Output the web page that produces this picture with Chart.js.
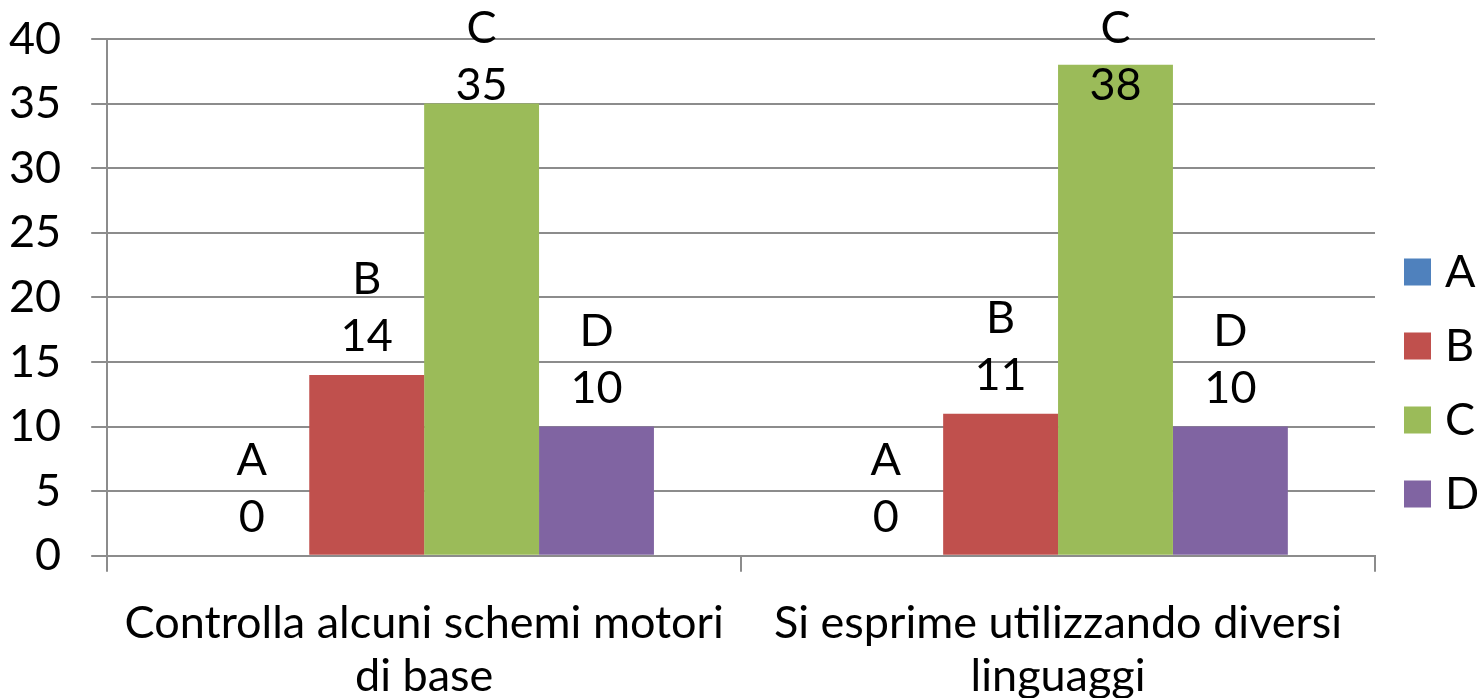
<!DOCTYPE html>
<html>
<head>
<meta charset="utf-8">
<script src="https://cdn.jsdelivr.net/npm/chart.js@4/dist/chart.umd.min.js"></script>
<style>
  html, body { margin: 0; padding: 0; background: #fff; }
  #wrap { width: 1478px; height: 698px; position: relative; }
</style>
</head>
<body>
<div id="wrap"><canvas id="c"></canvas></div>
<script>
// grouped bars, two categories, four answer series A-D

const categories = [
  ['Controlla alcuni schemi motori', 'di base'],
  ['Si esprime utilizzando diversi', 'linguaggi']
];
const seriesNames = ['A', 'B', 'C', 'D'];
const seriesA = [0, 0];
const seriesB = [14, 11];
const seriesC = [35, 38];
const seriesD = [10, 10];
const yTicks = [0, 5, 10, 15, 20, 25, 30, 35, 40];

const colors = ['#4F81BD', '#C0504D', '#9BBB59', '#8064A2'];
const FONT = 'Lato, "Open Sans", sans-serif';
const FS = 45;
const GRID = '#8c8c8c';

// name over value, above each bar (pushed down when it would leave the top)
const barLabels = {
  id: 'barLabels',
  afterDatasetsDraw(chart) {
    const ctx = chart.ctx;
    ctx.save();
    ctx.font = FS + 'px ' + FONT;
    ctx.fillStyle = '#000';
    ctx.textAlign = 'center';
    ctx.textBaseline = 'middle';
    chart.data.datasets.forEach((ds, i) => {
      chart.getDatasetMeta(i).data.forEach((bar, j) => {
        const nameY = Math.max(bar.y - 95, 28);
        ctx.fillText(ds.label, bar.x, nameY);
        ctx.fillText(String(ds.data[j]), bar.x, nameY + 57);
      });
    });
    ctx.restore();
  }
};

// legend on the right, squares + letters
const sideLegend = {
  id: 'sideLegend',
  afterDraw(chart) {
    const ctx = chart.ctx;
    ctx.save();
    ctx.font = FS + 'px ' + FONT;
    ctx.textAlign = 'left';
    ctx.textBaseline = 'middle';
    chart.data.datasets.forEach((ds, i) => {
      const cy = 272 + i * 74;
      ctx.fillStyle = ds.backgroundColor;
      ctx.fillRect(1404, cy - 13.5, 27, 27);
      ctx.fillStyle = '#000';
      ctx.fillText(ds.label, 1445, cy);
    });
    ctx.restore();
  }
};

const values = [seriesA, seriesB, seriesC, seriesD];
const datasets = seriesNames.map((name, i) => ({
  label: name,
  data: values[i],
  backgroundColor: colors[i],
  borderWidth: 0,
  categoryPercentage: 0.725,
  barPercentage: 1
}));

new Chart(document.getElementById('c').getContext('2d'), {
  type: 'bar',
  data: { labels: categories, datasets },
  plugins: [barLabels, sideLegend],
  options: {
    responsive: true,
    maintainAspectRatio: false,
    animation: false,
    layout: { padding: { top: 34, right: 103, bottom: -30, left: -21 } },
    plugins: { legend: { display: false }, tooltip: { enabled: false } },
    scales: {
      x: {
        grid: { drawOnChartArea: false, drawTicks: true, tickLength: 16, color: GRID, lineWidth: 2 },
        border: { color: GRID, width: 2 },
        ticks: { color: '#000', padding: 25, maxRotation: 0, autoSkip: false,
                 font: { family: FONT, size: FS, lineHeight: 1.18 } }
      },
      y: {
        min: 0, max: 40,
        afterBuildTicks: axis => { axis.ticks = yTicks.map(v => ({ value: v })); },
        grid: { color: GRID, lineWidth: 2, tickLength: 16 },
        border: { color: GRID, width: 2 },
        ticks: { color: '#000', padding: 30, font: { family: FONT, size: FS, lineHeight: 0.4 } }
      }
    }
  }
});
</script>
</body>
</html>
